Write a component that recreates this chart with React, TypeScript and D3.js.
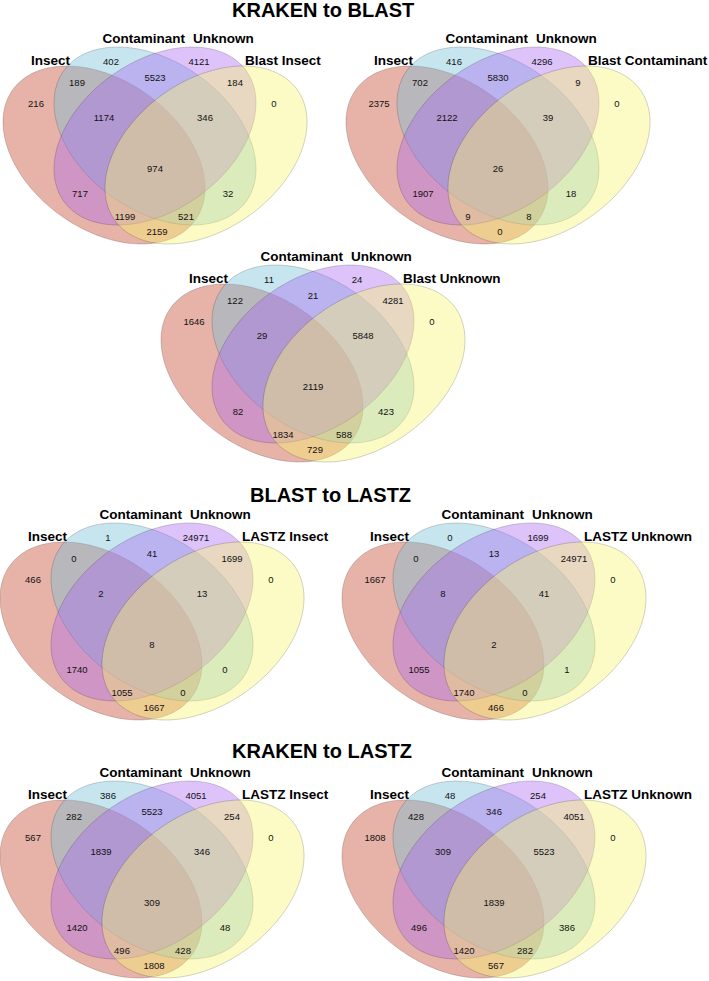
import React from "react";
import * as d3 from "d3";

const WIDTH = 709;
const HEIGHT = 981;

// Region order: A, B, C, D, AB, BC, CD, ABC, BCD, ABCD, AC, BD, ACD, ABD, AD
// A = Insect, B = Contaminant, C = Unknown, D = fourth set
const regionKeys = ["A", "B", "C", "D", "AB", "BC", "CD", "ABC", "BCD", "ABCD", "AC", "BD", "ACD", "ABD", "AD"];

const titles = ["KRAKEN to BLAST", "BLAST to LASTZ", "KRAKEN to LASTZ"];

const baseSets = ["Insect", "Contaminant", "Unknown"];
const fourthSets = ["Blast Insect", "Blast Contaminant", "Blast Unknown", "LASTZ Insect", "LASTZ Unknown", "LASTZ Insect", "LASTZ Unknown"];

const krakenBlastInsect = [216, 402, 4121, 0, 189, 5523, 184, 1174, 346, 974, 717, 32, 1199, 521, 2159];
const krakenBlastContaminant = [2375, 416, 4296, 0, 702, 5830, 9, 2122, 39, 26, 1907, 18, 9, 8, 0];
const krakenBlastUnknown = [1646, 11, 24, 0, 122, 21, 4281, 29, 5848, 2119, 82, 423, 1834, 588, 729];
const blastLastzInsect = [466, 1, 24971, 0, 0, 41, 1699, 2, 13, 8, 1740, 0, 1055, 0, 1667];
const blastLastzUnknown = [1667, 0, 1699, 0, 0, 13, 24971, 8, 41, 2, 1055, 1, 1740, 0, 466];
const krakenLastzInsect = [567, 386, 4051, 0, 282, 5523, 254, 1839, 346, 309, 1420, 48, 496, 428, 1808];
const krakenLastzUnknown = [1808, 48, 254, 0, 428, 346, 4051, 309, 5523, 1839, 496, 386, 1420, 282, 567];

const panelValues = [
  krakenBlastInsect,
  krakenBlastContaminant,
  krakenBlastUnknown,
  blastLastzInsect,
  blastLastzUnknown,
  krakenLastzInsect,
  krakenLastzUnknown,
];

// ---------- layout (pixels) ----------
const panelOrigins = [
  [155, 168],
  [498, 168],
  [313, 386],
  [152, 644],
  [494, 644],
  [152, 902],
  [494, 902],
];
const titleLayout = [
  { x: 232, y: 17 },
  { x: 250, y: 502 },
  { x: 232, y: 758 },
];

const U = 150; // px per unit of the panel frame
// ellipse geometry in px-equivalent offsets from panel origin
const ellipseGeom = [
  { cx: -51, cy: -13, w: 101, h: 89, d: 33, mirror: false, fill: "rgb(195,65,40)" },
  { cx: 0, cy: -32, w: 101, h: 89, d: 33, mirror: false, fill: "rgb(115,190,215)" },
  { cx: 0, cy: -32, w: 101, h: 89, d: 33, mirror: true, fill: "rgb(170,105,240)" },
  { cx: 51, cy: -13, w: 101, h: 89, d: 33, mirror: true, fill: "rgb(250,245,110)" },
];
const regionOffsets: Record<string, [number, number]> = {
  A: [-119, -65],
  B: [-44, -107],
  C: [44, -107],
  D: [119, -65],
  AB: [-78, -86],
  BC: [0, -91],
  CD: [80, -86],
  ABC: [-51, -51],
  BCD: [50, -51],
  ABCD: [0, 0],
  AC: [-75, 25],
  BD: [73, 25],
  ACD: [-30, 48],
  ABD: [31, 48],
  AD: [2, 63],
};

const FONT = "'Liberation Sans', Arial, Helvetica, sans-serif";

function Panel({ idx }: { idx: number }) {
  const [ox, oy] = panelOrigins[idx];
  const xs = d3.scaleLinear().domain([-1, 1]).range([ox - U, ox + U]);
  const ys = d3.scaleLinear().domain([-1, 1]).range([oy - U, oy + U]);
  const values = panelValues[idx];
  const angles = d3.range(0, 360, 2).map((a) => (a * Math.PI) / 180);
  const line = d3
    .line<[number, number]>()
    .x((p) => xs(p[0] / U))
    .y((p) => ys(p[1] / U))
    .curve(d3.curveLinearClosed);

  const paths = ellipseGeom.map((g) => {
    const s = Math.sqrt(g.h * g.h - g.d * g.d);
    const pts = angles.map((t) => {
      const dx = g.w * Math.cos(t) * (g.mirror ? -1 : 1);
      const dy = g.d * Math.cos(t) + s * Math.sin(t);
      return [g.cx + dx, g.cy + dy] as [number, number];
    });
    return { d: line(pts) || "", fill: g.fill };
  });

  return (
    <g>
      {paths.map((p, i) => (
        <path key={i} d={p.d} fill={p.fill} fillOpacity={0.4} stroke="#000" strokeOpacity={0.22} strokeWidth={0.8} />
      ))}
      {regionKeys.map((k, i) => {
        const [dx, dy] = regionOffsets[k];
        return (
          <text
            key={k}
            x={xs(dx / U)}
            y={ys(dy / U)}
            textAnchor="middle"
            dominantBaseline="central"
            fontSize={9.5}
            fontFamily={FONT}
            fill="#111"
          >
            {values[i]}
          </text>
        );
      })}
      <text x={xs(-85 / U)} y={ys(-103 / U)} textAnchor="end" fontSize={13.5} fontWeight="bold" fontFamily={FONT}>
        {baseSets[0]}
      </text>
      <text x={xs(30 / U)} y={ys(-125 / U)} textAnchor="end" fontSize={13.5} fontWeight="bold" fontFamily={FONT}>
        {baseSets[1]}
      </text>
      <text x={xs(38 / U)} y={ys(-125 / U)} textAnchor="start" fontSize={13.5} fontWeight="bold" fontFamily={FONT}>
        {baseSets[2]}
      </text>
      <text x={xs(90 / U)} y={ys(-103 / U)} textAnchor="start" fontSize={13.5} fontWeight="bold" fontFamily={FONT}>
        {fourthSets[idx]}
      </text>
    </g>
  );
}

export default function App() {
  return (
    <svg
      width={WIDTH}
      height={HEIGHT}
      style={{ position: "absolute", left: 0, top: 0, display: "block", background: "#fff" }}
    >
      <rect x={0} y={0} width={WIDTH} height={HEIGHT} fill="#fff" />
      {titles.map((t, i) => (
        <text key={t} x={titleLayout[i].x} y={titleLayout[i].y} fontSize={20} fontWeight="bold" fontFamily={FONT} fill="#000">
          {t}
        </text>
      ))}
      {panelValues.map((_, i) => (
        <Panel key={i} idx={i} />
      ))}
    </svg>
  );
}
